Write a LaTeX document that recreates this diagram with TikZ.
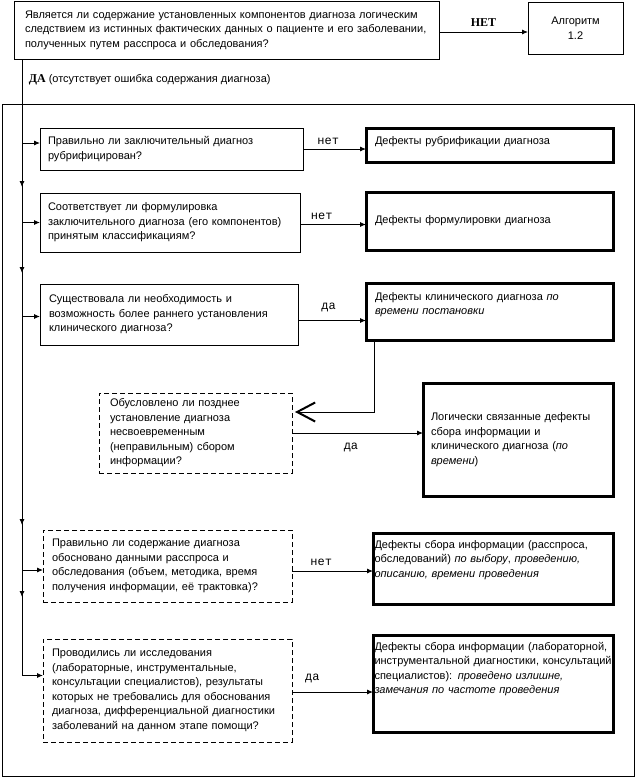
\documentclass[tikz,border=0pt]{standalone}
\usepackage{fontspec}
\setmainfont{Liberation Sans}
\setmonofont{Liberation Mono}
\newfontfamily\timesfont{Liberation Serif}
\usetikzlibrary{arrows.meta,decorations.markings}

\begin{document}
\begin{tikzpicture}[
  x=1pt, y=-1pt,
  font=\fontsize{11}{14.5}\selectfont,
  line width=0.9pt,
  question/.style={draw, anchor=north west, outer sep=0pt, align=left, inner xsep=8pt},
  dquestion/.style={question, dash pattern=on 5pt off 3pt},
  defect/.style={draw, line width=3pt, anchor=north west, outer sep=0pt, align=left, inner xsep=9pt},
  answer/.style={font=\ttfamily\fontsize{12}{14}\selectfont},
  flow/.style={-{Latex[length=6pt,width=5pt]}},
  backflow/.style={-{Straight Barb[length=18pt,width=19pt,line width=2pt]}},
]
\useasboundingbox (0,0) rectangle (637,777);

% Entry question and the outgoing branch
\node[question, inner xsep=11pt, text width=403pt, minimum height=58pt] (top) at (14,1)
  {Является ли содержание установленных компонентов диагноза логическим\\
   следствием из истинных фактических данных о пациенте и его заболевании,\\
   полученных путем расспроса и обследования?};
\node[question, align=center, text width=79pt, minimum height=52pt] (alg) at (528,2) {Алгоритм\\1.2};
\draw[flow] ([yshift=-2pt]top.east) -- ([yshift=-2pt]top.east -| alg.west)
  node[midway, above=2pt, font=\timesfont\bfseries\fontsize{12}{14}\selectfont] {НЕТ};

\coordinate (spine) at ([xshift=8pt]top.south west);
\node[anchor=west] (yes) at ([xshift=3pt]spine |- 0,80)
  {{\timesfont\bfseries\fontsize{12}{14}\selectfont ДА} (отсутствует ошибка содержания диагноза)};

% Frame around the checks
\draw (2,104) rectangle (634,776);

% Questions on the left
\node[question, text width=247pt, minimum height=42pt] (q1) at (40,128)
  {Правильно ли заключительный диагноз\\рубрифицирован?};
\node[question, text width=244pt, minimum height=59pt] (q2) at (40,193)
  {Соответствует ли формулировка\\заключительного диагноза (его компонентов)\\принятым классификациям?};
\node[question, inner xsep=9pt, text width=240pt, minimum height=61pt] (q3) at (40,284)
  {Существовала ли необходимость и\\возможность более раннего установления\\клинического диагноза?};
\node[dquestion, inner xsep=11pt, text width=171pt, minimum height=80pt] (q4) at (99,393)
  {Обусловлено ли позднее\\установление диагноза\\несвоевременным\\(неправильным) сбором\\информации?};
\node[dquestion, inner xsep=9pt, text width=231pt, minimum height=72pt] (q5) at (43,530)
  {Правильно ли содержание диагноза\\обосновано данными расспроса и\\обследования (объем, методика, время\\получения информации, её трактовка)?};
\node[dquestion, inner xsep=9pt, text width=231pt, minimum height=103pt] (q6) at (43,639)
  {Проводились ли исследования\\(лабораторные, инструментальные,\\консультации специалистов), результаты\\которых не требовались для обоснования\\диагноза, дифференциальной диагностики\\заболеваний на данном этапе помощи?};

% Defects on the right
\node[defect, text width=229pt, inner ysep=8pt, text height=8pt, text depth=10pt] (r1) at (366,128)
  {Дефекты рубрификации диагноза};
\node[defect, text width=229pt, minimum height=58pt] (r2) at (366,192)
  {Дефекты формулировки диагноза};
\node[defect, text width=229pt, inner ysep=9pt, text height=8pt, text depth=31pt] (r3) at (366,283)
  {Дефекты клинического диагноза \textit{по}\\\textit{времени постановки}};
\node[defect, inner xsep=8pt, text width=174pt, minimum height=113pt] (r4) at (423,383)
  {Логически связанные дефекты\\сбора информации и\\клинического диагноза (\textit{по}\\\textit{времени})};
\node[defect, inner xsep=1.5pt, text width=237pt, inner ysep=7pt, text height=8pt, text depth=49pt] (r5) at (373,533)
  {Дефекты сбора информации (расспроса,\\обследований) \textit{по выбору}, \textit{проведению,}\\\textit{описанию, времени проведения}};
\node[defect, inner xsep=1.5pt, text width=237pt, inner ysep=7pt, text height=8pt, text depth=75pt] (r6) at (373,635)
  {Дефекты сбора информации (лабораторной,\\\mbox{инструментальной диагностики, консультаций}\\специалистов): \textit{проведено излишне,}\\\textit{замечания по частоте проведения}};

% Main line with the downward marks
\draw[flow, postaction={decorate}, decoration={markings,
    mark=at position 128pt with {\arrow{Latex[length=6pt,width=5pt]}},
    mark=at position 214pt with {\arrow{Latex[length=6pt,width=5pt]}},
    mark=at position 466pt with {\arrow{Latex[length=6pt,width=5pt]}},
    mark=at position 538pt with {\arrow{Latex[length=6pt,width=5pt]}}}]
  (spine) |- ([yshift=15pt]q6.west);
\draw[flow] ([yshift=6pt]q1.west -| spine) -- ([yshift=6pt]q1.west);
\draw[flow] (q2.west -| spine) -- (q2.west);
\draw[flow] ([yshift=-2pt]q3.west -| spine) -- ([yshift=-2pt]q3.west);
\draw[flow] ([yshift=-4pt]q5.west -| spine) -- ([yshift=-4pt]q5.west);

% Answers
\draw[flow] (q1.east) -- (q1.east -| r1.west) node[answer, pos=0.4, above=1pt] {нет};
\draw[flow] ([yshift=-2pt]q2.east) -- ([yshift=-2pt]q2.east -| r2.west) node[answer, pos=0.33, above=1pt] {нет};
\draw[flow] ([yshift=-6pt]q3.east) -- ([yshift=-6pt]q3.east -| r3.west) node[answer, pos=0.45, above=5pt] {да};
\draw[backflow] ([xshift=8pt]r3.south west) |- ([xshift=3pt,yshift=21pt]q4.east);
\draw[flow] (q4.east) -- (q4.east -| r4.west) node[answer, pos=0.45, below=6pt] {да};
\draw[flow] ([yshift=-5pt]q5.east) -- ([yshift=-5pt]q5.east -| r5.west) node[answer, pos=0.36, above=2pt] {нет};
\draw[flow] ([yshift=-1.5pt]q6.east) -- ([yshift=-1.5pt]q6.east -| r6.west) node[answer, pos=0.25, above=5pt] {да};

\end{tikzpicture}
\end{document}
